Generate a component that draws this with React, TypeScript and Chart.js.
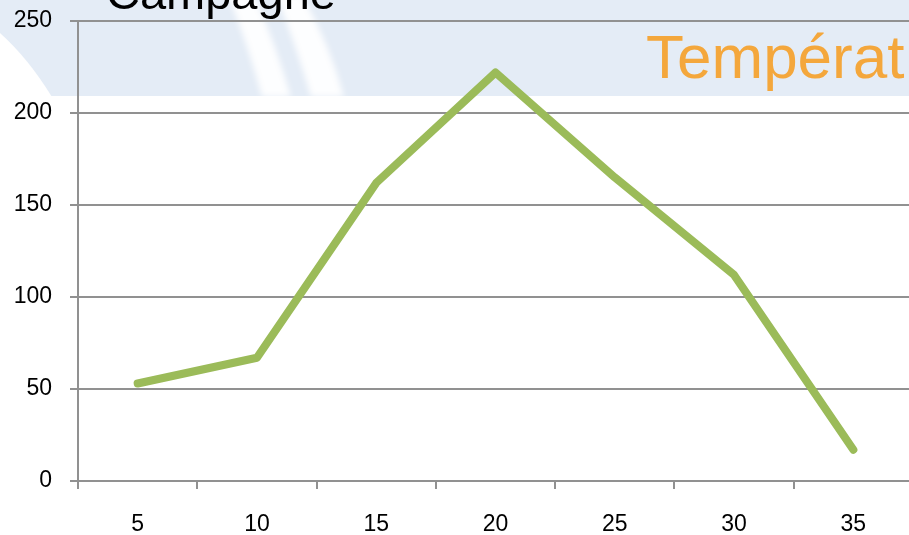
import React, { useEffect, useRef } from "react";
import { Chart, registerables } from "chart.js";

Chart.register(...registerables);

const categories = ["5", "10", "15", "20", "25", "30", "35"];
const values = [53, 67, 162, 222, 165, 112, 17];
const yMin = 0;
const yMax = 250;
const yStep = 50;
const titleLeft = "Campagne";
const titleRight = "Températ";

const GRID = "#919191";
const tickFont = { family: "'Liberation Sans', Arial, sans-serif", size: 23 };

const backgroundPlugin = {
  id: "bgDecor",
  beforeDraw(chart: any) {
    const ctx = chart.ctx;
    const w = chart.width;
    ctx.save();
    ctx.fillStyle = "#ffffff";
    ctx.fillRect(0, 0, w, chart.height);
    // light blue band
    ctx.fillStyle = "#E4ECF6";
    ctx.fillRect(0, 0, w, 96);
    // white wedge bottom-left
    ctx.fillStyle = "#ffffff";
    ctx.beginPath();
    ctx.moveTo(0, 33);
    ctx.quadraticCurveTo(28, 58, 52, 97);
    ctx.lineTo(0, 97);
    ctx.closePath();
    ctx.fill();
    // soft white stripes
    ctx.filter = "blur(3px)";
    ctx.fillStyle = "rgba(255,255,255,0.92)";
    ctx.beginPath();
    ctx.moveTo(228, -5);
    ctx.lineTo(254, -5);
    ctx.quadraticCurveTo(276, 45, 291, 97);
    ctx.lineTo(262, 97);
    ctx.quadraticCurveTo(248, 45, 228, -5);
    ctx.closePath();
    ctx.fill();
    ctx.beginPath();
    ctx.moveTo(276, -5);
    ctx.lineTo(302, -5);
    ctx.quadraticCurveTo(330, 45, 344, 97);
    ctx.lineTo(311, 97);
    ctx.quadraticCurveTo(296, 45, 276, -5);
    ctx.closePath();
    ctx.fill();
    ctx.filter = "none";
    ctx.fillStyle = "#ffffff";
    ctx.fillRect(0, 97, w, 10);
    ctx.restore();
  },
};

export default function App() {
  const ref = useRef<HTMLCanvasElement | null>(null);

  useEffect(() => {
    if (!ref.current) return;
    const chart = new Chart(ref.current, {
      type: "line",
      data: {
        labels: categories,
        datasets: [
          {
            data: values,
            borderColor: "#9BBB59",
            backgroundColor: "#9BBB59",
            borderWidth: 8,
            borderCapStyle: "round",
            borderJoinStyle: "round",
            pointRadius: 0,
            pointHoverRadius: 0,
            tension: 0,
            fill: false,
          },
        ],
      },
      options: {
        animation: false,
        responsive: false,
        devicePixelRatio: 1,
        layout: { padding: { top: 21, right: 0, left: 0, bottom: 0 } },
        plugins: {
          legend: { display: false },
          tooltip: { enabled: false },
          title: { display: false },
        },
        scales: {
          x: {
            type: "category",
            offset: true,
            grid: {
              display: true,
              drawOnChartArea: false,
              drawTicks: true,
              tickLength: 8,
              offset: true,
              color: GRID,
              lineWidth: 2,
            },
            border: { display: true, color: GRID, width: 2 },
            ticks: { font: tickFont, color: "#000", padding: 22, maxRotation: 0, autoSkip: false },
            afterFit: (s: any) => {
              s.height = 54;
              s.paddingLeft = 0;
              s.paddingRight = 0;
            },
          },
          y: {
            min: yMin,
            max: yMax,
            ticks: { stepSize: yStep, font: tickFont, color: "#000", padding: 18 },
            grid: { color: GRID, lineWidth: 2, tickLength: 8, drawTicks: true },
            border: { display: true, color: GRID, width: 2 },
            afterFit: (s: any) => {
              s.width = 78;
              s.paddingTop = 0;
              s.paddingBottom = 0;
            },
          },
        },
      },
      plugins: [backgroundPlugin],
    } as any);
    return () => chart.destroy();
  }, []);

  return (
    <div
      style={{
        position: "fixed",
        left: 0,
        top: 0,
        width: 909,
        height: 535,
        overflow: "hidden",
        background: "#fff",
      }}
    >
      <canvas ref={ref} width={913} height={535} style={{ display: "block", width: 913, height: 535 }} />
      <div
        style={{
          position: "absolute",
          left: 106,
          top: 8 - 0.905 * 47,
          fontFamily: "'Liberation Sans', Arial, sans-serif",
          fontSize: 47,
          lineHeight: "normal",
          color: "#000",
          whiteSpace: "nowrap",
        }}
      >
        {titleLeft}
      </div>
      <div
        style={{
          position: "absolute",
          left: 646,
          top: 77 - 0.905 * 62,
          fontFamily: "'Liberation Sans', Arial, sans-serif",
          fontSize: 62,
          lineHeight: "normal",
          color: "#F4A73C",
          whiteSpace: "nowrap",
        }}
      >
        {titleRight}
      </div>
    </div>
  );
}
